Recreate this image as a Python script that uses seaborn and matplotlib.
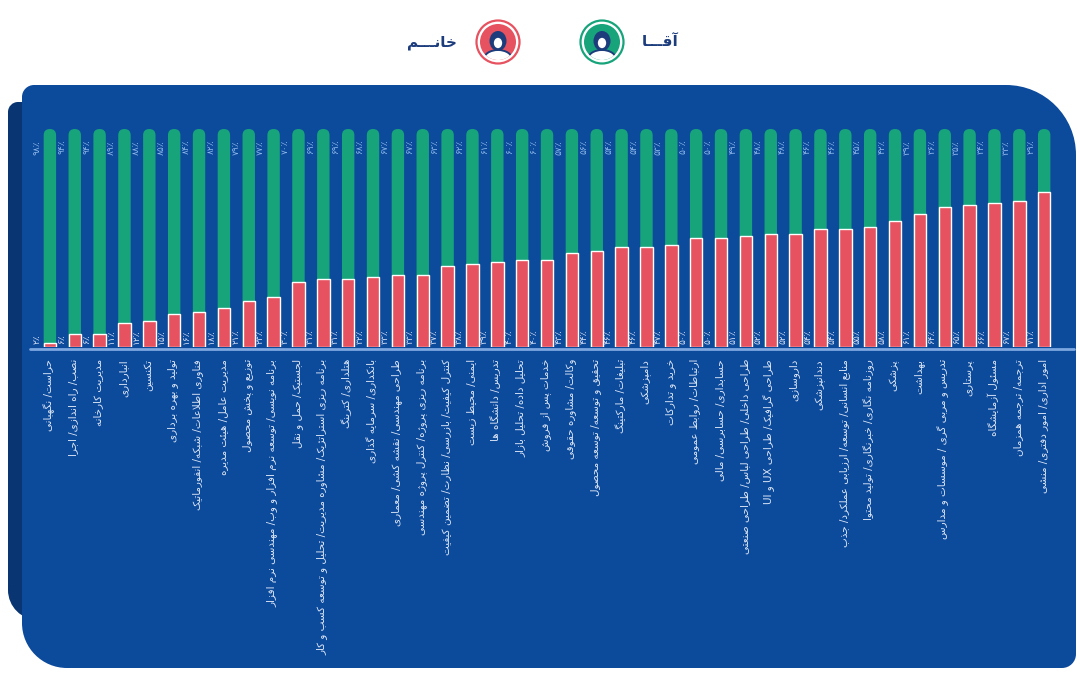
import re
import numpy as np
import pandas as pd
import matplotlib
matplotlib.use("Agg")
import matplotlib.pyplot as plt
import seaborn as sns
from matplotlib.patches import FancyBboxPatch, Circle, Ellipse, PathPatch, BoxStyle
from matplotlib.path import Path

# ---------------- data ----------------
jobs = [
    "حراست/ نگهبانی",
    "نصب/ راه اندازی/ اجرا",
    "مدیریت کارخانه",
    "انبارداری",
    "تکنسین",
    "تولید و بهره برداری",
    "فناوری اطلاعات/ شبکه/ انفورماتیک",
    "مدیریت عامل/ هیئت مدیره",
    "توزیع و پخش محصول",
    "برنامه نویسی/ توسعه نرم افزار و وب/ مهندسی نرم افزار",
    "لجستیک/ حمل و نقل",
    "برنامه ریزی استراتژیک/ مشاوره مدیریت/ تحلیل و توسعه کسب و کار",
    "هتلداری/ کترینگ",
    "بانکداری/ سرمایه گذاری",
    "طراحی مهندسی/ نقشه کشی/ معماری",
    "برنامه ریزی پروژه/ کنترل پروژه مهندسی",
    "کنترل کیفیت/ بازرسی/ نظارت/ تضمین کیفیت",
    "ایمنی/ محیط زیست",
    "تدریس/ دانشگاه ها",
    "تحلیل داده/ تحلیل بازار",
    "خدمات پس از فروش",
    "وکالت/ مشاوره حقوقی",
    "تحقیق و توسعه/ توسعه محصول",
    "تبلیغات/ مارکتینگ",
    "دامپزشکی",
    "خرید و تدارکات",
    "ارتباطات/ روابط عمومی",
    "حسابداری/ حسابرسی/ مالی",
    "طراحی داخلی/ طراحی لباس/ طراحی صنعتی",
    "طراحی گرافیک/ طراحی UX و UI",
    "داروسازی",
    "دندانپزشکی",
    "منابع انسانی/ توسعه/ ارزیابی عملکرد/ جذب",
    "روزنامه نگاری/ خبرنگاری/ تولید محتوا",
    "پزشکی",
    "بهداشت",
    "تدریس و مربی گری / موسسات و مدارس",
    "پرستاری",
    "مسئول آزمایشگاه",
    "ترجمه/ ترجمه همزمان",
    "امور اداری/ امور دفتری/ منشی",
]
female = [2, 6, 6, 11, 12, 15, 16, 18, 21, 23, 30, 31, 31, 32, 33, 33, 37, 38, 39, 40, 40,
          43, 44, 46, 46, 47, 50, 50, 51, 52, 52, 54, 54, 55, 58, 61, 64, 65, 66, 67, 71]
male = [98, 94, 94, 89, 88, 85, 84, 82, 79, 77, 70, 69, 69, 68, 67, 67, 63, 62, 61, 60, 60,
        57, 56, 54, 54, 53, 50, 50, 49, 48, 48, 46, 46, 45, 42, 39, 36, 35, 34, 33, 29]
legend_male = "آقـــا"
legend_female = "خانـــم"

GREEN = "#17A47B"
RED = "#E6525F"
PANEL = "#0C4A9B"
SHADOW = "#093572"
NAVY = "#1C3C7C"

# ---------------- minimal Persian shaping ----------------
_F = {
    0x0621: (0xFE80, None, None, None),
    0x0622: (0xFE81, 0xFE82, None, None),
    0x0623: (0xFE83, 0xFE84, None, None),
    0x0624: (0xFE85, 0xFE86, None, None),
    0x0625: (0xFE87, 0xFE88, None, None),
    0x0626: (0xFE89, 0xFE8A, 0xFE8B, 0xFE8C),
    0x0627: (0xFE8D, 0xFE8E, None, None),
    0x0628: (0xFE8F, 0xFE90, 0xFE91, 0xFE92),
    0x0629: (0xFE93, 0xFE94, None, None),
    0x062A: (0xFE95, 0xFE96, 0xFE97, 0xFE98),
    0x062B: (0xFE99, 0xFE9A, 0xFE9B, 0xFE9C),
    0x062C: (0xFE9D, 0xFE9E, 0xFE9F, 0xFEA0),
    0x062D: (0xFEA1, 0xFEA2, 0xFEA3, 0xFEA4),
    0x062E: (0xFEA5, 0xFEA6, 0xFEA7, 0xFEA8),
    0x062F: (0xFEA9, 0xFEAA, None, None),
    0x0630: (0xFEAB, 0xFEAC, None, None),
    0x0631: (0xFEAD, 0xFEAE, None, None),
    0x0632: (0xFEAF, 0xFEB0, None, None),
    0x0633: (0xFEB1, 0xFEB2, 0xFEB3, 0xFEB4),
    0x0634: (0xFEB5, 0xFEB6, 0xFEB7, 0xFEB8),
    0x0635: (0xFEB9, 0xFEBA, 0xFEBB, 0xFEBC),
    0x0636: (0xFEBD, 0xFEBE, 0xFEBF, 0xFEC0),
    0x0637: (0xFEC1, 0xFEC2, 0xFEC3, 0xFEC4),
    0x0638: (0xFEC5, 0xFEC6, 0xFEC7, 0xFEC8),
    0x0639: (0xFEC9, 0xFECA, 0xFECB, 0xFECC),
    0x063A: (0xFECD, 0xFECE, 0xFECF, 0xFED0),
    0x0641: (0xFED1, 0xFED2, 0xFED3, 0xFED4),
    0x0642: (0xFED5, 0xFED6, 0xFED7, 0xFED8),
    0x0643: (0xFED9, 0xFEDA, 0xFEDB, 0xFEDC),
    0x0644: (0xFEDD, 0xFEDE, 0xFEDF, 0xFEE0),
    0x0645: (0xFEE1, 0xFEE2, 0xFEE3, 0xFEE4),
    0x0646: (0xFEE5, 0xFEE6, 0xFEE7, 0xFEE8),
    0x0647: (0xFEE9, 0xFEEA, 0xFEEB, 0xFEEC),
    0x0648: (0xFEED, 0xFEEE, None, None),
    0x0649: (0xFEEF, 0xFEF0, None, None),
    0x064A: (0xFEF1, 0xFEF2, 0xFEF3, 0xFEF4),
    0x067E: (0xFB56, 0xFB57, 0xFB58, 0xFB59),
    0x0686: (0xFB7A, 0xFB7B, 0xFB7C, 0xFB7D),
    0x0698: (0xFB8A, 0xFB8B, None, None),
    0x06A9: (0xFB8E, 0xFB8F, 0xFB90, 0xFB91),
    0x06AF: (0xFB92, 0xFB93, 0xFB94, 0xFB95),
    0x06CC: (0xFBFC, 0xFBFD, 0xFBFE, 0xFBFF),
}
_LAMALEF = {0x0622: (0xFEF5, 0xFEF6), 0x0623: (0xFEF7, 0xFEF8),
            0x0625: (0xFEF9, 0xFEFA), 0x0627: (0xFEFB, 0xFEFC)}
TATWEEL = 0x0640


def _joins_next(c):
    return c == TATWEEL or (c in _F and _F[c][2] is not None)


def _joins_prev(c):
    return c == TATWEEL or (c in _F and _F[c][1] is not None)


def shape(text):
    cps = [ord(c) for c in text]
    out = []
    i = 0
    n = len(cps)
    while i < n:
        c = cps[i]
        prev = cps[i - 1] if i > 0 else None
        nxt = cps[i + 1] if i + 1 < n else None
        jp = prev is not None and _joins_next(prev) and _joins_prev(c)
        if c == 0x0644 and nxt in _LAMALEF:
            out.append(chr(_LAMALEF[nxt][1 if jp else 0]))
            i += 2
            continue
        if c == 0x200C:
            i += 1
            continue
        if c not in _F:
            out.append(chr(c))
            i += 1
            continue
        jn = _joins_next(c) and nxt is not None and _joins_prev(nxt)
        iso, fin, ini, med = _F[c]
        if jp and jn:
            g = med
        elif jp:
            g = fin
        elif jn:
            g = ini
        else:
            g = iso
        out.append(chr(g))
        i += 1
    return "".join(out)


def rtl(text):
    s = shape(text)[::-1]
    return re.sub(r"[A-Za-z0-9]+", lambda m: m.group(0)[::-1], s)


def fa_num(v):
    return "".join(chr(0x06F0 + int(d)) for d in str(v))


# ---------------- figure ----------------
sns.set_theme(style="white")
plt.rcParams["font.family"] = ["DejaVu Sans"]

W, H = 1080, 675
fig = plt.figure(figsize=(W / 100, H / 100), dpi=100, facecolor="white")

bg = fig.add_axes([0, 0, 1, 1], zorder=0)
bg.set_xlim(0, W)
bg.set_ylim(H, 0)
bg.axis("off")


def rrect(x0, y0, x1, y1, rtl_, rtr, rbr, rbl):
    k = 0.5523
    v, c = [], []
    v.append((x0 + rtl_, y0)); c.append(Path.MOVETO)
    v.append((x1 - rtr, y0)); c.append(Path.LINETO)
    v += [(x1 - rtr + k * rtr, y0), (x1, y0 + rtr - k * rtr), (x1, y0 + rtr)]; c += [Path.CURVE4] * 3
    v.append((x1, y1 - rbr)); c.append(Path.LINETO)
    v += [(x1, y1 - rbr + k * rbr), (x1 - rbr + k * rbr, y1), (x1 - rbr, y1)]; c += [Path.CURVE4] * 3
    v.append((x0 + rbl, y1)); c.append(Path.LINETO)
    v += [(x0 + rbl - k * rbl, y1), (x0, y1 - rbl + k * rbl), (x0, y1 - rbl)]; c += [Path.CURVE4] * 3
    v.append((x0, y0 + rtl_)); c.append(Path.LINETO)
    v += [(x0, y0 + rtl_ - k * rtl_), (x0 + rtl_ - k * rtl_, y0), (x0 + rtl_, y0)]; c += [Path.CURVE4] * 3
    v.append((x0 + rtl_, y0)); c.append(Path.CLOSEPOLY)
    return Path(v, c)


bg.add_patch(PathPatch(rrect(8, 102, 70, 620, 10, 0, 0, 30), facecolor=SHADOW, edgecolor="none"))
bg.add_patch(PathPatch(rrect(22, 85, 1076, 668, 12, 70, 14, 45), facecolor=PANEL, edgecolor="none"))


def icon(cx, cy, col):
    bg.add_patch(Circle((cx, cy), 21.5, facecolor="white", edgecolor=col, lw=1.6))
    disc = Circle((cx, cy), 18, facecolor=col, edgecolor="none")
    bg.add_patch(disc)
    parts = [
        Ellipse((cx, cy - 1), 17, 20, facecolor=NAVY, edgecolor="none"),
        Ellipse((cx, cy + 1), 10, 12, facecolor="white", edgecolor=NAVY, lw=1.2),
        Ellipse((cx, cy + 17), 28, 18, facecolor="white", edgecolor=NAVY, lw=1.4),
    ]
    for p in parts:
        bg.add_patch(p)
        p.set_clip_path(disc)


icon(602, 42, GREEN)
icon(498, 42, RED)
bg.text(660, 42, rtl(legend_male), ha="center", va="center", fontsize=11,
        fontweight="bold", color=NAVY)
bg.text(432, 42, rtl(legend_female), ha="center", va="center", fontsize=11,
        fontweight="bold", color=NAVY)

# ---------------- bars ----------------
n = len(jobs)
x_lo, x_hi = -0.8, n + 0.2
ax_left, ax_right = 30, 1074
base_px, top_px = 347, 129
ax = fig.add_axes([ax_left / W, 1 - base_px / H, (ax_right - ax_left) / W, (base_px - top_px) / H],
                  zorder=2)
ax.patch.set_alpha(0)

df = pd.DataFrame({"job": jobs, "female": female, "male": male})
df["total"] = df["female"] + df["male"]

sns.barplot(data=df, x="job", y="total", color=GREEN, saturation=1, width=0.5, ax=ax)
green_rects = list(ax.patches)
sns.barplot(data=df, x="job", y="female", color=RED, saturation=1, width=0.5, ax=ax)
ax.set_xlim(x_lo, x_hi)
ax.set_ylim(0, 100)
ax.axis("off")

px_x = (ax_right - ax_left) / (x_hi - x_lo)
px_y = (base_px - top_px) / 100.0
m_aspect = px_x / px_y
for r in green_rects:
    x, w, h = r.get_x(), r.get_width(), r.get_height()
    r.remove()
    fb = FancyBboxPatch((x, -6), w, h + 6,
                        boxstyle=BoxStyle.Round(pad=0, rounding_size=w / 2),
                        mutation_aspect=m_aspect, facecolor=GREEN, edgecolor="none", zorder=1)
    ax.add_patch(fb)
for r in ax.patches:
    if not isinstance(r, FancyBboxPatch):
        r.set_zorder(2)

ax.axhline(-0.9, color="#7DA7E0", lw=2, clip_on=False, zorder=3)

for i, (job, f, mval) in enumerate(zip(jobs, female, male)):
    ax.text(i - 0.52, 95, fa_num(mval) + "٪", rotation=90, ha="center", va="top",
            fontsize=6.5, color="#8DB8EA", zorder=4)
    ax.text(i - 0.52, 1.5, fa_num(f) + "٪", rotation=90, ha="center", va="bottom",
            fontsize=6.5, color="#D5DEF3", zorder=4)
    ax.text(i - 0.05, -5.5, rtl(job), rotation=90, ha="center", va="top",
            fontsize=7.5, color="#DCE6F7", clip_on=False, zorder=4)

fig.savefig("out.png", dpi=100, facecolor="white")
